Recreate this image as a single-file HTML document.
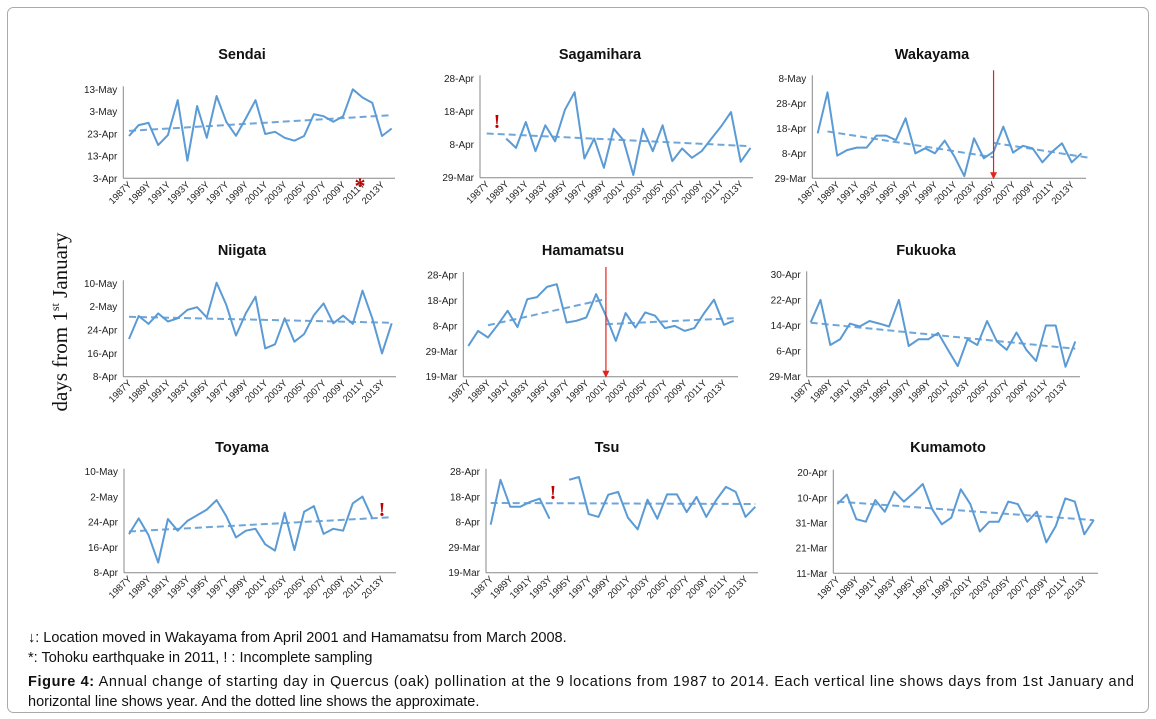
<!DOCTYPE html>
<html><head><meta charset="utf-8">
<style>
body{margin:0;background:#fff;}
svg{display:block;font-family:"Liberation Sans",sans-serif;}
.cap{font-family:"Liberation Sans",sans-serif;font-size:14.5px;fill:#111;}
</style></head>
<body>
<svg id="fig" width="1156" height="719" viewBox="0 0 1156 719" xmlns="http://www.w3.org/2000/svg">
<rect x="7.5" y="7.5" width="1141" height="705" rx="6" fill="#fff" stroke="#aaa" stroke-width="1"/>
<text transform="translate(67,322) rotate(-90)" text-anchor="middle" font-family="Liberation Serif,serif" font-size="21" fill="#111">days from 1<tspan font-size="12" dy="-8">st</tspan><tspan dy="8"> January</tspan></text>
<g id="panels"></g>
<text class="cap" x="28" y="642">↓: Location moved in Wakayama from April 2001 and Hamamatsu from March 2008.</text>
<text class="cap" x="28" y="662">*: Tohoku earthquake in 2011, ! : Incomplete sampling</text>
<text class="cap" x="28" y="686" textLength="1106" lengthAdjust="spacing"><tspan font-weight="bold">Figure 4:</tspan> Annual change of starting day in Quercus (oak) pollination at the 9 locations from 1987 to 2014. Each vertical line shows days from 1st January and</text>
<text class="cap" x="28" y="706">horizontal line shows year. And the dotted line shows the approximate.</text>
</svg>
<script>
// Data: days after each panel's lowest axis tick, years 1987..2014 (null = missing)
const years = [1987,1988,1989,1990,1991,1992,1993,1994,1995,1996,1997,1998,1999,2000,2001,2002,2003,2004,2005,2006,2007,2008,2009,2010,2011,2012,2013,2014];
const yearLabels = ["1987Y","1989Y","1991Y","1993Y","1995Y","1997Y","1999Y","2001Y","2003Y","2005Y","2007Y","2009Y","2011Y","2013Y"];
const sendaiValues = [19,23.9,24.9,14.9,19.4,35.1,7.9,32.5,18.2,37,25.4,19.1,26.9,35.1,19.9,20.9,18.2,16.9,19,28.8,27.9,25.4,27.9,40,36.3,33.9,19,22.4];
const sendaiTicks = ["3-Apr","13-Apr","23-Apr","3-May","13-May"];
const sagamiharaValues = [null,null,11.8,9,16.8,8,15.8,11,20.5,25.8,5.8,11.8,3,14.8,11.3,0.8,14.8,8,15.8,5,8.8,6,8,11.8,15.5,19.8,4.8,9];
const sagamiharaTicks = ["29-Mar","8-Apr","18-Apr","28-Apr"];
const wakayamaValues = [18,34.4,9.1,11.3,12.3,12.3,17.1,17.1,15.3,24,10,12,10,15.1,8.7,0.9,16,8,10.7,20.7,10.3,13,12,6.4,10.7,14,6.4,10];
const wakayamaTicks = ["29-Mar","8-Apr","18-Apr","28-Apr","8-May"];
const niigataValues = [12.9,20.8,18.1,21.7,18.9,20,22.9,23.8,20.3,32.2,24.6,14.1,21.7,27.4,9.7,11.1,20,12,14.6,21.1,25.1,18.3,20.9,18.1,29.5,20,8,18.3];
const niigataTicks = ["8-Apr","16-Apr","24-Apr","2-May","10-May"];
const hamamatsuValues = [12.1,18.0,15.4,20.4,25.9,19.5,30.5,31.3,35.3,36.4,21.3,22,23.3,32.5,24,14.1,25,19.3,25.3,24,19.1,20,18,19.1,25,30.3,20.4,22];
const hamamatsuTicks = ["19-Mar","29-Mar","8-Apr","18-Apr","28-Apr"];
const fukuokaValues = [17,24,9.9,11.7,16.6,15.7,17.4,16.6,15.7,24,9.6,11.7,11.7,13.7,8.4,3.3,11.7,9.9,17.4,11,8.4,13.8,8.4,4.9,16,16,3.1,11];
const fukuokaTicks = ["29-Mar","6-Apr","14-Apr","22-Apr","30-Apr"];
const toyamaValues = [12.2,17.2,11.9,3.2,17,13.3,16.4,18.2,20,23,17.9,11.2,13.3,13.9,9,7,19,7.2,19.3,21.1,12.3,13.9,13.3,22,24.1,17.2,null,null];
const toyamaTicks = ["8-Apr","16-Apr","24-Apr","2-May","10-May"];
const tsuValues = [19,36.8,26.1,26.1,28,29.3,21.4,null,36.8,37.9,23.2,22.1,30.9,32,21.8,17.2,28.9,21.4,31,31,24,30,22.1,28.7,34,32,22.1,26.1];
const tsuTicks = ["19-Mar","29-Mar","8-Apr","18-Apr","28-Apr"];
const kumamotoValues = [27.5,31.3,21.5,20.5,29.1,24.5,32.5,28.5,31.8,35.5,25.4,19.5,22.1,33.4,27.5,16.6,20.5,20.5,28.5,27.5,20.5,24.5,12.3,18.8,29.8,28.5,15.5,21.2];
const kumamotoTicks = ["11-Mar","21-Mar","31-Mar","10-Apr","20-Apr"];

const NS = "http://www.w3.org/2000/svg";
const root = document.getElementById("panels");
function mk(tag, attrs, parent){ const e=document.createElementNS(NS,tag); for(const k in attrs) e.setAttribute(k,attrs[k]); (parent||root).appendChild(e); return e; }

const panels = [
 {name:"sendai",title:"Sendai",vals:sendaiValues,ticks:sendaiTicks,step:10,ax:123.3,bot:178.3,top:89.3,x0:129,dx:9.73,right:395,tx:242,ty:59,trends:[[1987,2014,1987,2014]]},
 {name:"sagamihara",title:"Sagamihara",vals:sagamiharaValues,ticks:sagamiharaTicks,step:10,ax:480,bot:177.7,top:78.3,x0:486.7,dx:9.77,right:753,tx:600,ty:59,trends:[[1989,2014,1987,2014]]},
 {name:"wakayama",title:"Wakayama",vals:wakayamaValues,ticks:wakayamaTicks,step:10,ax:812.3,bot:178.3,top:78.3,x0:817.7,dx:9.77,right:1086,tx:932,ty:59,trends:[[1988,2005,1988,2005],[2005,2014,2005,2015]],move:2005},
 {name:"niigata",title:"Niigata",vals:niigataValues,ticks:niigataTicks,step:8,ax:123.3,bot:376.7,top:283.3,x0:129,dx:9.73,right:396,tx:242,ty:255,trends:[[1987,2014,1987,2014]]},
 {name:"hamamatsu",title:"Hamamatsu",vals:hamamatsuValues,ticks:hamamatsuTicks,step:10,ax:463.3,bot:376.7,top:275,x0:468.3,dx:9.83,right:738,tx:583,ty:255,trends:[[1987,2001,1989,2001],[2001,2014,2001,2014]],move:2001},
 {name:"fukuoka",title:"Fukuoka",vals:fukuokaValues,ticks:fukuokaTicks,step:8,ax:806.7,bot:376.7,top:274.3,x0:810.7,dx:9.8,right:1080,tx:926,ty:255,trends:[[1987,2014,1987,2014]]},
 {name:"toyama",title:"Toyama",vals:toyamaValues,ticks:toyamaTicks,step:8,ax:124,bot:572.7,top:471.7,x0:129,dx:9.73,right:396,tx:242,ty:452,trends:[[1987,2012,1987,2014]]},
 {name:"tsu",title:"Tsu",vals:tsuValues,ticks:tsuTicks,step:10,ax:486,bot:572.7,top:471.7,x0:490.7,dx:9.8,right:758,tx:607,ty:452,trends:[[1987,2014,1987,2014]]},
 {name:"kumamoto",title:"Kumamoto",vals:kumamotoValues,ticks:kumamotoTicks,step:10,ax:833.3,bot:573.3,top:472.7,x0:837.3,dx:9.5,right:1098,tx:948,ty:452,trends:[[1987,2014,1987,2014]]}
];

panels.forEach(p=>{
  const g = mk("g",{});
  
  
  const maxV = p.step*(p.ticks.length-1);
  const X = yr => p.x0 + (yr-years[0])*p.dx;
  const Y = v => p.bot - v/maxV*(p.bot-p.top);
  const t = mk("text",{x:p.tx,y:p.ty,"text-anchor":"middle","font-size":"14.5","font-weight":"bold",fill:"#111"},g);
  t.textContent = p.title;
  
  
  const ya = mk("line",{x1:p.ax,y1:p.top-3,x2:p.ax,y2:p.bot,stroke:"#888","stroke-width":"1"},g);
  
  
  const xa = mk("line",{x1:p.ax,y1:p.bot,x2:p.right,y2:p.bot,stroke:"#888","stroke-width":"1"},g);
  
  
  p.ticks.forEach((lb,i)=>{
    const tt = mk("text",{x:p.ax-6,y:Y(i*p.step)+3.5,"text-anchor":"end","font-size":"10",fill:"#222"},g);
    tt.textContent = lb;
    
    
  });
  yearLabels.forEach((lb,i)=>{
    const x = X(years[0]+2*i)+3, y = p.bot+7;
    const tt = mk("text",{x:x,y:y,"text-anchor":"end","font-size":"9.5",fill:"#222",transform:`rotate(-45 ${x} ${y})`},g);
    tt.textContent = lb;
    
    
  });
  p.trends.forEach(tr=>{
    let n=0,sx=0,sy=0,sxx=0,sxy=0;
    years.forEach((yr,i)=>{ const v=p.vals[i]; if(v==null||yr<tr[0]||yr>tr[1]) return; n++;sx+=yr;sy+=v;sxx+=yr*yr;sxy+=yr*v; });
    const b=(n*sxy-sx*sy)/(n*sxx-sx*sx), a=(sy-b*sx)/n;
    const l = mk("line",{x1:X(tr[2]),y1:Y(a+b*tr[2]),x2:X(tr[3]),y2:Y(a+b*tr[3]),stroke:"#6fa6da","stroke-width":"2","stroke-dasharray":"7,4"},g);
    
    
  });
  let d="", pen=false;
  years.forEach((yr,i)=>{ const v=p.vals[i]; if(v==null){pen=false;return;} d+=(pen?"L":"M")+X(yr).toFixed(1)+","+Y(v).toFixed(1); pen=true; });
  const s = mk("path",{d:d,fill:"none",stroke:"#5b9bd5","stroke-width":"2","stroke-linejoin":"round"},g);
  
  
  if(p.move){
    const mx = X(p.move);
    const ml = mk("line",{x1:mx,y1:p.top-8,x2:mx,y2:p.bot-4,stroke:"#e8221b","stroke-width":"1.2"},g);
    
    
    const ah = mk("polygon",{points:`${mx-3.5},${p.bot-6} ${mx+3.5},${p.bot-6} ${mx},${p.bot+1}`,fill:"#e8221b"},g);
    
    
  }
});

function mark(txt,x,y,size,name){
  const e = mk("text",{x:x,y:y,"text-anchor":"middle","font-size":size,"font-weight":"bold","font-family":"Liberation Serif,serif",fill:"#c00000"});
  e.textContent = txt;
  
  
}
mark("*",360,193,"22","sendai-earthquake-marker");
mark("!",497,128,"20","sagamihara-incomplete-marker");
mark("!",553,499,"20","tsu-incomplete-marker");
mark("!",382,516,"20","toyama-incomplete-marker");
</script>
</body></html>
